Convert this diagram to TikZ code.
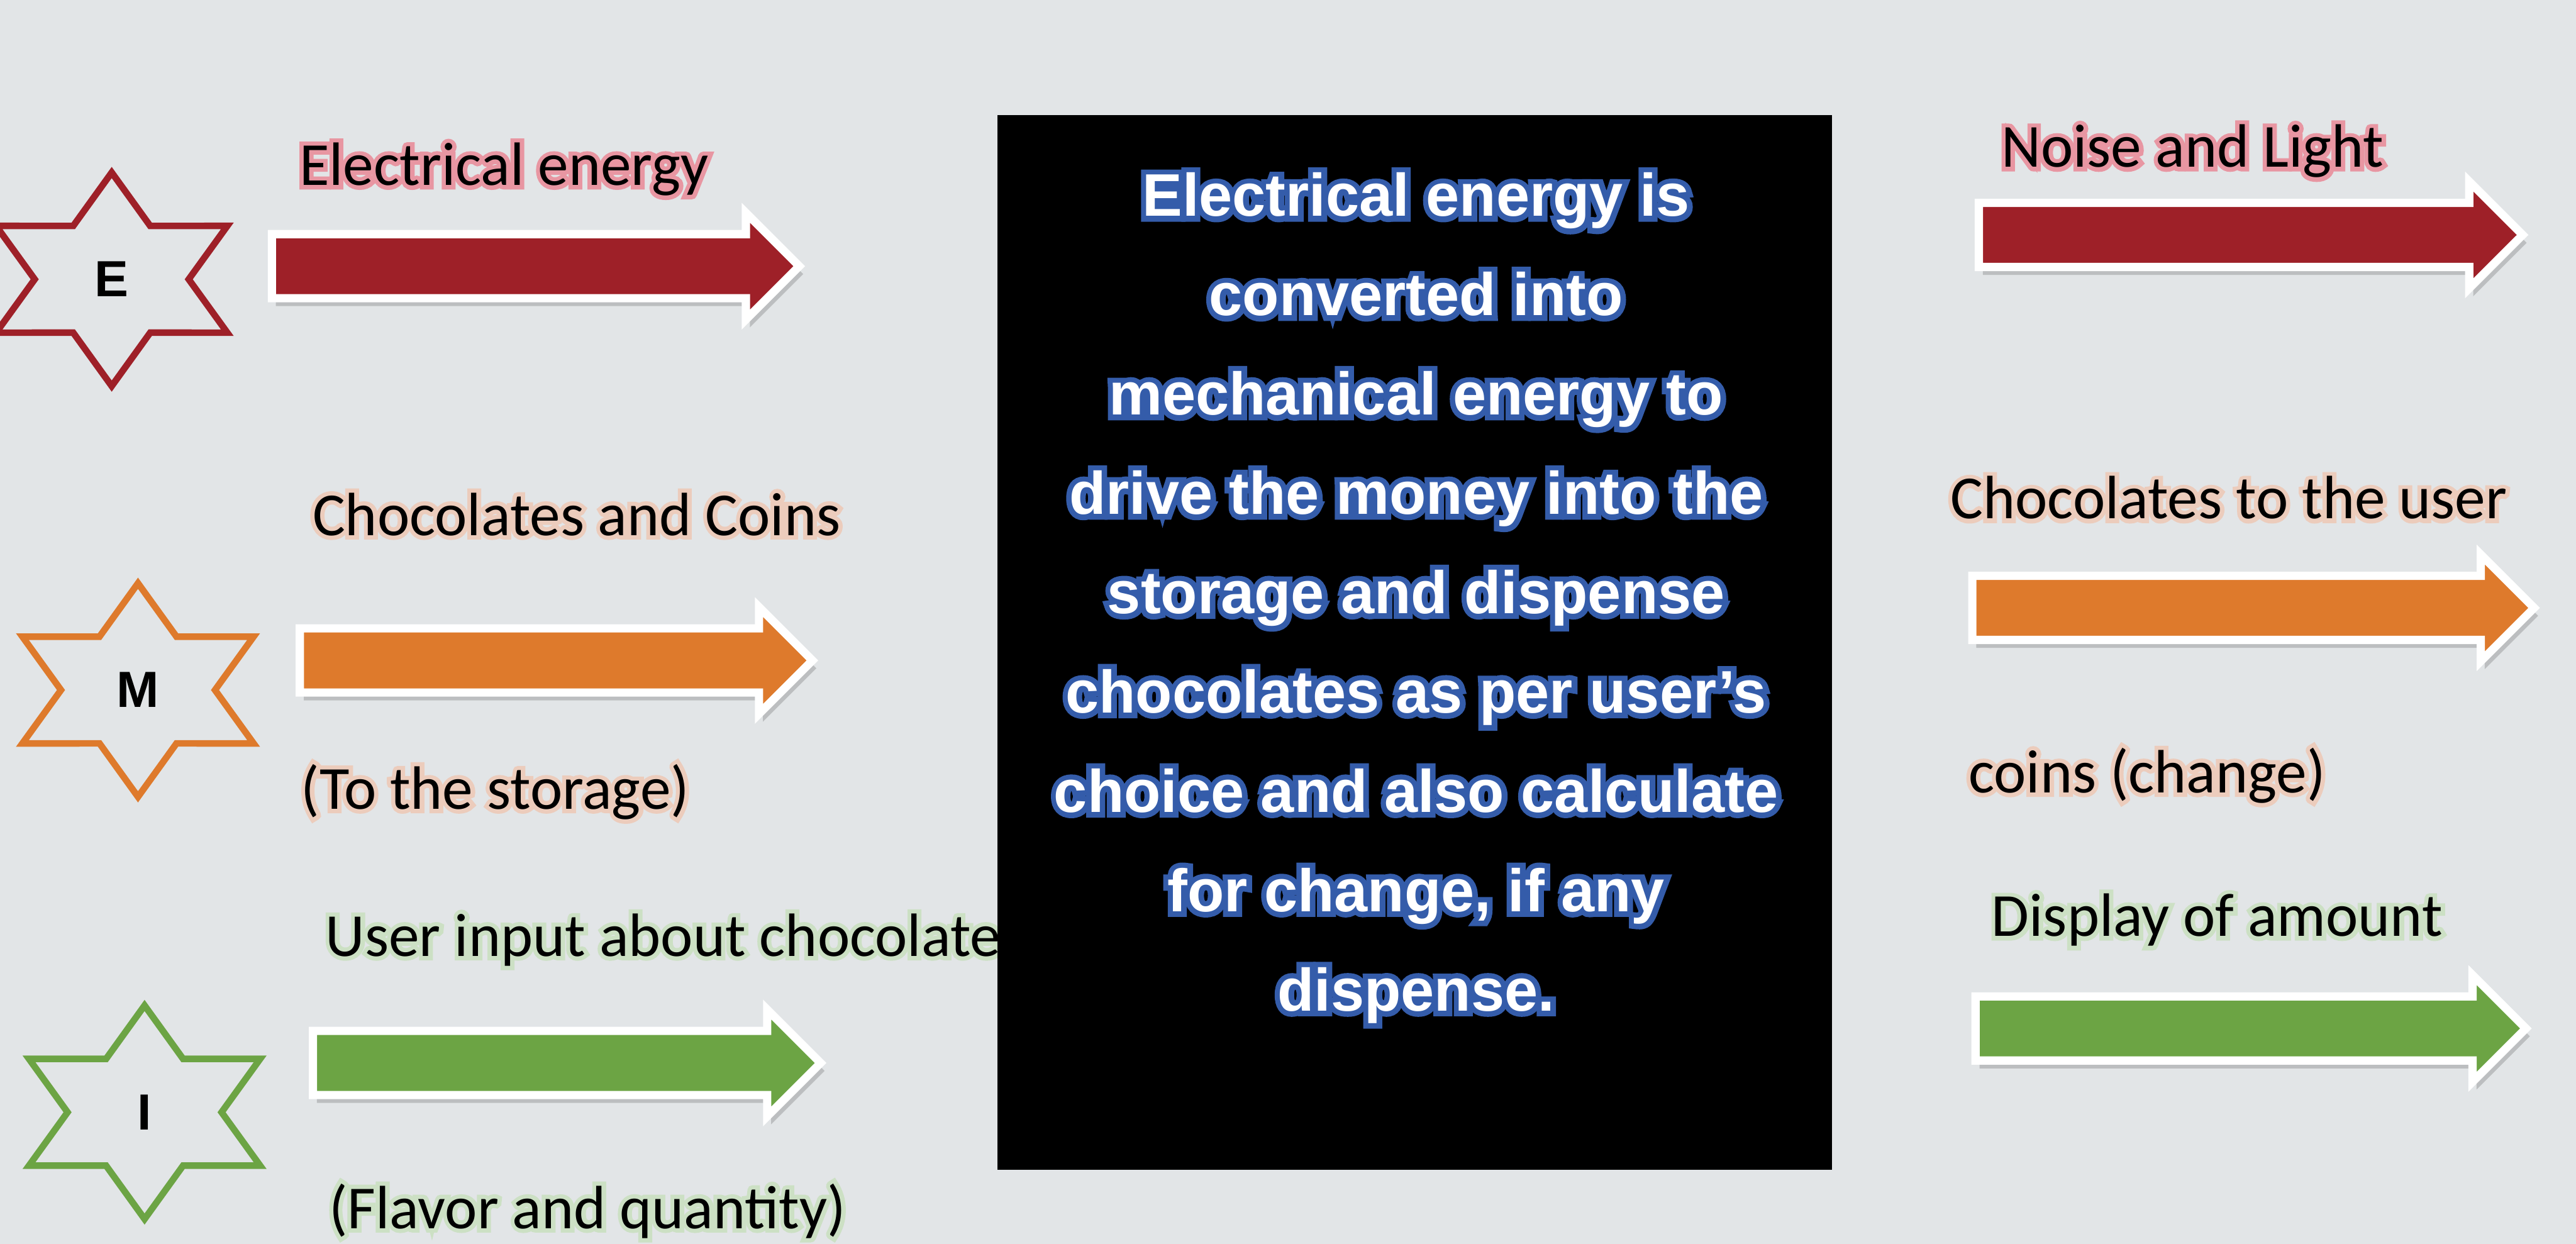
\documentclass[tikz,border=0pt]{standalone}
\usepackage{fontspec}
\setmainfont{Carlito}
\newfontfamily\boxfont{Liberation Sans}
\newfontfamily\glowfont{Carlito}[FakeBold=14]
\newfontfamily\boxglowfont{Liberation Sans Bold}[FakeBold=18]
\usetikzlibrary{shapes.arrows, shadows}
\definecolor{bgGrey}{RGB}{226,229,231}
\definecolor{elecRed}{RGB}{158,32,40}
\definecolor{mechOrange}{RGB}{222,122,44}
\definecolor{infoGreen}{RGB}{108,164,68}
\definecolor{glowRed}{RGB}{232,150,162}
\definecolor{glowOrange}{RGB}{236,204,188}
\definecolor{glowGreen}{RGB}{204,224,196}
\definecolor{outlineBlue}{RGB}{52,92,170}
% text laid over a wider copy of itself
\newcommand{\glowtxt}[3]{\leavevmode\rlap{\textcolor{#1}{#2#3}}#3}

\begin{document}
\begin{tikzpicture}[
    x=0.25mm, y=-0.25mm,
    lbl/.style={
        anchor=west,
        inner sep=0pt,
        font=\fontsize{26.5}{32}\selectfont
    },
    starlbl/.style={
        inner sep=0pt,
        font=\boxfont\bfseries\fontsize{22}{26}\selectfont
    },
    blockarrow/.style={
        single arrow,
        anchor=tail,
        fill=#1,
        draw=white,
        line width=1.25mm,
        inner xsep=0pt,
        inner ysep=4.25mm,
        single arrow head extend=3.25mm,
        drop shadow={shadow xshift=0.6mm, shadow yshift=-1.2mm, fill=black!60, opacity=0.3}
    },
    procbox/.style={
        fill=black,
        inner sep=0pt,
        minimum width=127mm,
        minimum height=160.5mm
    },
    proctext/.style={
        text=white,
        align=center,
        inner sep=0pt,
        font=\boxfont\bfseries\fontsize{26}{43}\selectfont
    },
    hexstar/.pic={
        \draw[line width=1mm, line join=miter, xscale=1.25]
            (90:65) -- (60:37.5) -- (30:65) -- (0:37.5) -- (-30:65) -- (-60:37.5)
            -- (-90:65) -- (-120:37.5) -- (-150:65) -- (180:37.5) -- (150:65)
            -- (120:37.5) -- cycle;
    }
]

\useasboundingbox (0,0) rectangle (1568,757);
\fill[bgGrey] (0,0) rectangle (1568,757);

% input side
\node[starlbl] (estar) at (68,170) {E};
\pic[color=elecRed] at (estar) {hexstar};
\node[starlbl] (mstar) at (84,420) {M};
\pic[color=mechOrange] at (mstar) {hexstar};
\node[starlbl] (istar) at (88,677) {I};
\pic[color=infoGreen] at (istar) {hexstar};

\node[blockarrow=elecRed, minimum height=80.25mm] (elecIn) at (163,162) {};
\node[blockarrow=mechOrange, minimum height=78mm] (mechIn) at (180,402) {};
\node[blockarrow=infoGreen, minimum height=77.25mm] (infoIn) at (188,647) {};

\node[lbl] (elecInLbl) at (182,103) {\glowtxt{glowRed}{\glowfont}{Electrical energy}};
\node[lbl] (mechInLbl) at (190,313) {\glowtxt{glowOrange}{\glowfont}{Chocolates and Coins}};
\node[lbl] (mechInNote) at (183,482) {\glowtxt{glowOrange}{\glowfont}{(To the storage)}};
\node[lbl] (infoInLbl) at (198,572) {\glowtxt{glowGreen}{\glowfont}{User input about chocolate}};
\node[lbl] (infoInNote) at (200,737) {\glowtxt{glowGreen}{\glowfont}{(Flavor and quantity)}};

% process
\node[procbox] (proc) at (861,391) {};
\node[proctext] (procTxt) at (862,364)
{\glowtxt{outlineBlue}{\boxglowfont}{Electrical energy is}\\
 \glowtxt{outlineBlue}{\boxglowfont}{converted into}\\
 \glowtxt{outlineBlue}{\boxglowfont}{mechanical energy to}\\
 \glowtxt{outlineBlue}{\boxglowfont}{drive the money into the}\\
 \glowtxt{outlineBlue}{\boxglowfont}{storage and dispense}\\
 \glowtxt{outlineBlue}{\boxglowfont}{chocolates as per user’s}\\
 \glowtxt{outlineBlue}{\boxglowfont}{choice and also calculate}\\
 \glowtxt{outlineBlue}{\boxglowfont}{for change, if any}\\
 \glowtxt{outlineBlue}{\boxglowfont}{dispense.}};

% output side
\node[blockarrow=elecRed, minimum height=82.75mm] (elecOut) at (1202,143) {};
\node[blockarrow=mechOrange, minimum height=85.5mm] (mechOut) at (1198,370) {};
\node[blockarrow=infoGreen, minimum height=83.75mm] (infoOut) at (1200,626) {};

\node[lbl] (elecOutLbl) at (1218,92) {\glowtxt{glowRed}{\glowfont}{Noise and Light}};
\node[lbl] (mechOutLbl) at (1187,303) {\glowtxt{glowOrange}{\glowfont}{Chocolates to the user}};
\node[lbl] (mechOutNote) at (1198,472) {\glowtxt{glowOrange}{\glowfont}{coins (change)}};
\node[lbl] (infoOutLbl) at (1212,560) {\glowtxt{glowGreen}{\glowfont}{Display of amount}};

\end{tikzpicture}
\end{document}
